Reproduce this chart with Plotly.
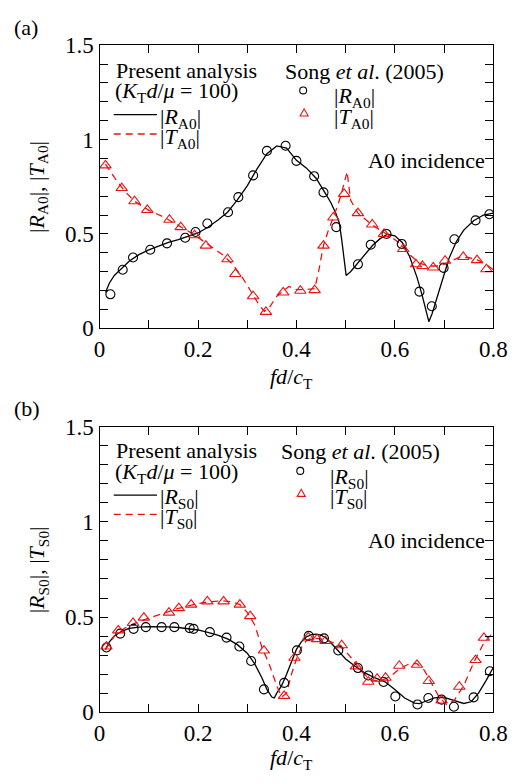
import plotly.graph_objects as go

W, H = 522, 784
FONT = "Liberation Serif, Times New Roman, serif"
RED = "#ee1111"

# ---------------- (a) A0 incidence: A0 modes ----------------
ra0_line_x = [0.012, 0.02, 0.03, 0.045, 0.06, 0.08, 0.1, 0.12, 0.14, 0.16, 0.18, 0.2, 0.22, 0.24, 0.26, 0.28,
              0.3, 0.32, 0.34, 0.36, 0.38, 0.40, 0.42, 0.44, 0.46, 0.47, 0.48, 0.487, 0.492, 0.497, 0.501,
              0.51, 0.525, 0.54, 0.555, 0.57, 0.585, 0.6, 0.615, 0.63, 0.645, 0.655, 0.662, 0.669, 0.676,
              0.685, 0.695, 0.71, 0.725, 0.74, 0.76, 0.78, 0.8]
ra0_line_y = [0.19, 0.24, 0.28, 0.315, 0.355, 0.39, 0.415, 0.435, 0.455, 0.47, 0.487, 0.505, 0.535, 0.572, 0.615,
              0.68, 0.755, 0.845, 0.925, 0.966, 0.955, 0.89, 0.85, 0.795, 0.71, 0.665, 0.61, 0.56, 0.47, 0.37, 0.28,
              0.3, 0.345, 0.395, 0.44, 0.475, 0.498, 0.49, 0.455, 0.38, 0.27, 0.18, 0.1, 0.035, 0.08,
              0.16, 0.25, 0.37, 0.46, 0.52, 0.57, 0.6, 0.61]
ta0_line_x = [0.012, 0.03, 0.05, 0.07, 0.1, 0.13, 0.16, 0.19, 0.22, 0.25, 0.27, 0.29, 0.31, 0.325, 0.335, 0.345,
              0.36, 0.375, 0.385, 0.4, 0.42, 0.437, 0.445, 0.455, 0.465, 0.477, 0.49, 0.5, 0.503, 0.51, 0.525,
              0.55, 0.57, 0.59, 0.61, 0.63, 0.65, 0.67, 0.69, 0.71, 0.73, 0.75, 0.77, 0.79, 0.8]
ta0_line_y = [0.87, 0.8, 0.73, 0.675, 0.625, 0.59, 0.545, 0.5, 0.445, 0.39, 0.34, 0.27, 0.185, 0.12, 0.09, 0.11,
              0.17, 0.2, 0.222, 0.205, 0.205, 0.21, 0.3, 0.44, 0.52, 0.6, 0.7, 0.8, 0.83, 0.68, 0.61,
              0.555, 0.52, 0.49, 0.45, 0.39, 0.345, 0.33, 0.33, 0.35, 0.375, 0.375, 0.36, 0.33, 0.31]
ra0_pts_x = [0.022, 0.047, 0.068, 0.103, 0.137, 0.174, 0.195, 0.219, 0.261, 0.282, 0.312, 0.34, 0.378, 0.40,
             0.436, 0.455, 0.481, 0.525, 0.551, 0.583, 0.614, 0.65, 0.675, 0.699, 0.721, 0.764, 0.792]
ra0_pts_y = [0.18, 0.31, 0.375, 0.416, 0.45, 0.48, 0.51, 0.555, 0.615, 0.695, 0.81, 0.94, 0.967, 0.887,
             0.806, 0.72, 0.536, 0.339, 0.443, 0.50, 0.447, 0.194, 0.117, 0.32, 0.472, 0.572, 0.604]
ta0_pts_x = [0.012, 0.045, 0.071, 0.097, 0.142, 0.165, 0.193, 0.216, 0.26, 0.276, 0.312, 0.338, 0.373, 0.408,
             0.437, 0.455, 0.475, 0.497, 0.525, 0.554, 0.578, 0.617, 0.643, 0.656, 0.678, 0.702, 0.739, 0.767,
             0.786]
ta0_pts_y = [0.863, 0.743, 0.673, 0.627, 0.575, 0.536, 0.493, 0.438, 0.366, 0.288, 0.17, 0.087, 0.19, 0.199,
             0.202, 0.438, 0.587, 0.712, 0.61, 0.55, 0.50, 0.42, 0.339, 0.33, 0.322, 0.358, 0.378, 0.361,
             0.313]

# ---------------- (b) A0 incidence: S0 modes ----------------
rs0_line_x = [0.012, 0.02, 0.03, 0.045, 0.06, 0.08, 0.1, 0.12, 0.14, 0.16, 0.18, 0.2, 0.22, 0.24, 0.26, 0.28,
              0.3, 0.315, 0.33, 0.34, 0.35, 0.355, 0.36, 0.37, 0.38, 0.39, 0.4, 0.41, 0.42, 0.43, 0.44, 0.45,
              0.46, 0.47, 0.48, 0.49, 0.5, 0.52, 0.54, 0.56, 0.58, 0.6, 0.62, 0.64, 0.65, 0.66, 0.68, 0.7,
              0.72, 0.74, 0.755, 0.77, 0.785, 0.8]
rs0_line_y = [0.33, 0.37, 0.40, 0.425, 0.44, 0.447, 0.45, 0.45, 0.448, 0.445, 0.44, 0.432, 0.42, 0.405, 0.385,
              0.355, 0.31, 0.255, 0.18, 0.12, 0.08, 0.075, 0.1, 0.14, 0.2, 0.27, 0.33, 0.37, 0.395, 0.408,
              0.41, 0.405, 0.39, 0.365, 0.335, 0.305, 0.28, 0.24, 0.205, 0.18, 0.16, 0.12, 0.075, 0.048,
              0.045, 0.055, 0.075, 0.078, 0.06, 0.046, 0.055, 0.1, 0.165, 0.235]
ts0_line_x = [0.012, 0.03, 0.05, 0.07, 0.1, 0.13, 0.16, 0.19, 0.22, 0.25, 0.27, 0.285, 0.3, 0.315, 0.33, 0.345,
              0.36, 0.37, 0.38, 0.39, 0.4, 0.41, 0.42, 0.43, 0.45, 0.47, 0.49, 0.51, 0.53, 0.55, 0.57, 0.59,
              0.61, 0.63, 0.645, 0.66, 0.675, 0.69, 0.705, 0.72, 0.74, 0.76, 0.78, 0.8]
ts0_line_y = [0.33, 0.4, 0.44, 0.465, 0.495, 0.52, 0.545, 0.565, 0.58, 0.585, 0.58, 0.565, 0.525, 0.46, 0.34,
              0.25, 0.14, 0.08, 0.1, 0.2, 0.28, 0.34, 0.375, 0.39, 0.385, 0.37, 0.35, 0.29, 0.22, 0.17, 0.165,
              0.185, 0.23, 0.255, 0.255, 0.22, 0.15, 0.08, 0.04, 0.06, 0.14, 0.26, 0.36, 0.42]
rs0_pts_x = [0.014, 0.042, 0.069, 0.094, 0.126, 0.152, 0.183, 0.191, 0.224, 0.258, 0.284, 0.308, 0.334, 0.375,
             0.401, 0.425, 0.456, 0.485, 0.525, 0.546, 0.577, 0.601, 0.646, 0.668, 0.695, 0.72, 0.76, 0.793]
rs0_pts_y = [0.34, 0.413, 0.438, 0.447, 0.447, 0.447, 0.442, 0.438, 0.421, 0.392, 0.345, 0.269, 0.12, 0.154,
             0.325, 0.401, 0.388, 0.324, 0.232, 0.193, 0.159, 0.083, 0.041, 0.075, 0.066, 0.029, 0.078, 0.215]
ts0_pts_x = [0.014, 0.038, 0.068, 0.09, 0.141, 0.161, 0.186, 0.219, 0.252, 0.285, 0.306, 0.334, 0.375, 0.396,
             0.424, 0.442, 0.459, 0.492, 0.521, 0.546, 0.564, 0.581, 0.609, 0.645, 0.669, 0.695, 0.731, 0.764,
             0.781]
ts0_pts_y = [0.345, 0.43, 0.469, 0.497, 0.523, 0.547, 0.565, 0.582, 0.582, 0.565, 0.505, 0.324, 0.086, 0.286,
             0.393, 0.384, 0.374, 0.352, 0.241, 0.16, 0.176, 0.181, 0.244, 0.249, 0.164, 0.062, 0.134, 0.274,
             0.391]

x_tickvals = [0, 0.1, 0.2, 0.3, 0.4, 0.5, 0.6, 0.7, 0.8]
x_ticktext = ["0", "", "0.2", "", "0.4", "", "0.6", "", "0.8"]
y_tickvals = [0, 0.1, 0.2, 0.3, 0.4, 0.5, 0.6, 0.7, 0.8, 0.9, 1.0, 1.1, 1.2, 1.3, 1.4, 1.5]
y_ticktext = ["0", "", "", "", "", "0.5", "", "", "", "", "1", "", "", "", "", "1.5"]

fig = go.Figure()

def add_panel(xa, ya, lx, ly, tlx, tly, px_, py_, tpx, tpy):
    fig.add_trace(go.Scatter(x=lx, y=ly, mode="lines", xaxis=xa, yaxis=ya,
                             line=dict(color="black", width=1.3), showlegend=False))
    fig.add_trace(go.Scatter(x=tlx, y=tly, mode="lines", xaxis=xa, yaxis=ya,
                             line=dict(color=RED, width=1.3, dash="7px,5px"), showlegend=False))
    fig.add_trace(go.Scatter(x=px_, y=py_, mode="markers", xaxis=xa, yaxis=ya,
                             marker=dict(symbol="circle-open", size=9, color="black", line=dict(width=1.1)),
                             showlegend=False))
    fig.add_trace(go.Scatter(x=tpx, y=tpy, mode="markers", xaxis=xa, yaxis=ya,
                             marker=dict(symbol="triangle-up-open", size=10, color=RED, line=dict(width=1.1)),
                             showlegend=False))

add_panel("x", "y", ra0_line_x, ra0_line_y, ta0_line_x, ta0_line_y, ra0_pts_x, ra0_pts_y, ta0_pts_x, ta0_pts_y)
add_panel("x2", "y2", rs0_line_x, rs0_line_y, ts0_line_x, ts0_line_y, rs0_pts_x, rs0_pts_y, ts0_pts_x, ts0_pts_y)

xdom = [97.3 / W, 506.7 / W]
tickfont = dict(family=FONT, size=23, color="black")
axcommon = dict(showline=True, linewidth=1.4, linecolor="black", mirror="ticks", ticks="inside",
                ticklen=8, tickwidth=1.1, tickcolor="black", showgrid=False, zeroline=False,
                tickfont=tickfont, fixedrange=True)

fig.update_layout(
    width=W, height=H, margin=dict(l=0, r=0, t=0, b=0),
    paper_bgcolor="white", plot_bgcolor="white", showlegend=False,
    xaxis=dict(domain=xdom, anchor="y", range=[0, 0.8], tickvals=x_tickvals, ticktext=x_ticktext, **axcommon),
    yaxis=dict(domain=[1 - 326.7 / H, 1 - 34.3 / H], anchor="x", range=[0, 1.5],
               tickvals=y_tickvals, ticktext=y_ticktext, **axcommon),
    xaxis2=dict(domain=xdom, anchor="y2", range=[0, 0.8], tickvals=x_tickvals, ticktext=x_ticktext, **axcommon),
    yaxis2=dict(domain=[1 - 723.3 / H, 1 - 428.3 / H], anchor="x2", range=[0, 1.5],
                tickvals=y_tickvals, ticktext=y_ticktext, **axcommon),
)

def P(xp, yp):
    return xp / W, 1 - yp / H

annotations = []
def txt(text, xp, yp, xanchor="left", size=22, angle=0):
    x, y = P(xp, yp)
    annotations.append(dict(text=text, x=x, y=y, xref="paper", yref="paper", xanchor=xanchor,
                            yanchor="middle", showarrow=False, textangle=angle,
                            font=dict(family=FONT, size=size, color="black")))

shapes = []
def hline(x0, x1, yp, color, dash="solid"):
    a, b = P(x0, yp)
    c, _ = P(x1, yp)
    shapes.append(dict(type="line", xref="paper", yref="paper", x0=a, x1=c, y0=b, y1=b,
                       line=dict(color=color, width=1.3, dash=dash)))

def circ(cx, cy, r=3.6):
    x0, y0 = P(cx - r, cy + r)
    x1, y1 = P(cx + r, cy - r)
    shapes.append(dict(type="circle", xref="paper", yref="paper", x0=x0, x1=x1, y0=y0, y1=y1,
                       line=dict(color="black", width=1.1)))

def tri(cx, cy, s=4.2):
    pts = [P(cx - s, cy + s * 0.8), P(cx + s, cy + s * 0.8), P(cx, cy - s * 0.95)]
    path = "M {} {} L {} {} L {} {} Z".format(pts[0][0], pts[0][1], pts[1][0], pts[1][1], pts[2][0], pts[2][1])
    shapes.append(dict(type="path", xref="paper", yref="paper", path=path,
                       line=dict(color=RED, width=1.1)))

def legend_block(off, mode, song_x, sym_x, lab_x):
    txt("Present analysis", 112, 60 + off)
    txt("(<i>K</i><sub>T</sub><i>d</i>/<i>μ</i> = 100)", 111, 83 + off)
    hline(112, 157, 106 + off, "black")
    txt("|<i>R</i><sub>%s</sub>|" % mode, 158, 109 + off)
    hline(112, 157, 126 + off, RED, dash="7px,5px")
    txt("|<i>T</i><sub>%s</sub>|" % mode, 158, 130 + off)
    txt("Song <i>et al</i>. (2005)", song_x, 61 + off)
    circ(sym_x, 81 + off)
    txt("|<i>R</i><sub>%s</sub>|" % mode, lab_x, 88 + off)
    tri(sym_x + 1, 104 + off)
    txt("|<i>T</i><sub>%s</sub>|" % mode, lab_x, 109 + off)
    txt("A0 incidence", 500, 153 + off, xanchor="right")

# panel (a)
txt("(a)", 6, 16)
legend_block(0, "A0", 288, 309, 339)
txt("|<i>R</i><sub>A0</sub>|, |<i>T</i><sub>A0</sub>|", 33, 181, xanchor="center", angle=-90)
txt("<i>fd</i>/<i>c</i><sub>T</sub>", 297, 378, xanchor="center")

# panel (b)
txt("(b)", 6, 410)
legend_block(393, "S0", 284, 306, 335)
txt("|<i>R</i><sub>S0</sub>|, |<i>T</i><sub>S0</sub>|", 33, 576, xanchor="center", angle=-90)
txt("<i>fd</i>/<i>c</i><sub>T</sub>", 297, 772, xanchor="center")

fig.update_layout(annotations=annotations, shapes=shapes)
fig.write_html("out.html")
